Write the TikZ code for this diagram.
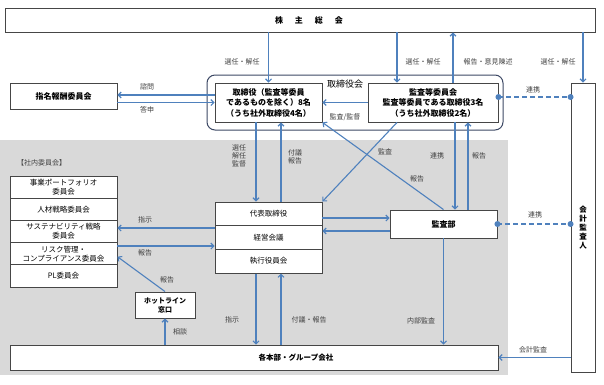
\documentclass[tikz,border=0pt]{standalone}
\usepackage{fontspec}
\setmainfont{Noto Sans CJK JP}
\usetikzlibrary{arrows.meta,calc,positioning}

\definecolor{flow}{RGB}{79,129,189}
\definecolor{frame}{RGB}{70,70,70}
\definecolor{bggray}{RGB}{217,217,217}
\definecolor{boardline}{RGB}{60,72,100}

\tikzset{
  box/.style={draw=frame,line width=0.9pt,fill=white,align=center,inner sep=1pt,
    font=\fontsize{8}{10.5}\selectfont\bfseries},
  rowbox/.style={box,minimum width=107pt,font=\fontsize{7.5}{9}\selectfont},
  lbl/.style={font=\fontsize{7}{8}\selectfont,text=black!75,inner sep=1pt,align=center},
  flowline/.style={draw=flow,line width=1.1pt,-{Straight Barb[length=3pt,width=6pt]}},
  link/.style={draw=flow,line width=2pt,dash pattern=on 5pt off 3pt},
  dot/.style={circle,fill=flow,inner sep=0pt,minimum size=6pt},
}

\begin{document}
\begin{tikzpicture}[x=1pt,y=-1pt]
  \useasboundingbox (0,0) rectangle (604,384);
  \fill[bggray] (0,140) rectangle (508,375);

  % boxes
  \node[box,minimum width=590pt,minimum height=24pt] (gm) at (300,20)
    {\hspace*{18pt}株\hspace{12pt}主\hspace{12pt}総\hspace{12pt}会};
  \node[box,minimum width=107pt,minimum height=26pt] (nom) at (63.5,96) {指名報酬委員会};
  \node[draw=boardline,line width=1pt,rounded corners=8pt,minimum width=296pt,minimum height=55pt] (bod) at (355,102.5) {};
  \node[font=\fontsize{9}{10}\selectfont,inner sep=0pt] (bodl) at (345,84) {取締役会};
  \node[box,minimum width=107pt,minimum height=39pt] (dir) at (268.5,102.5)
    {取締役（監査等委員\\であるものを除く）8名\\（うち社外取締役4名）};
  \node[box,minimum width=130pt,minimum height=39pt] (ac) at (433,102.5)
    {監査等委員会\\監査等委員である取締役3名\\（うち社外取締役2名）};
  \node[box,minimum width=24pt,minimum height=289pt,font=\fontsize{7.5}{9}\selectfont\bfseries] (aud) at (583,227.5)
    {会\\計\\監\\査\\人};
  \foreach \n/\y/\t in {rep/213.8/代表取締役, mgm/237.5/経営会議, exo/261.2/執行役員会}
    \node[rowbox,minimum height=23.7pt] (\n) at (268.5,\y) {\t};
  \node[box,minimum width=107pt,minimum height=28pt] (ia) at (443.5,224) {監査部};
  \node[lbl,anchor=west] (inl) at (16,163) {【社内委員会】};
  \foreach \n/\y/\t in {c1/187.1/{事業ポートフォリオ\\委員会}, c2/209.3/人材戦略委員会,
      c3/231.5/{サステナビリティ戦略\\委員会}, c4/253.7/{リスク管理・\\コンプライアンス委員会}, c5/275.9/PL委員会}
    \node[rowbox,minimum height=22.2pt] (\n) at (63.5,\y) {\t};
  \node[box,minimum width=60pt,minimum height=26pt,font=\fontsize{7}{9}\selectfont\bfseries] (hl) at (165,305) {ホットライン\\窓口};
  \node[box,minimum width=488pt,minimum height=25pt,font=\fontsize{7.5}{9}\selectfont\bfseries] (grp) at (254,357.5)
    {\hspace*{84pt}各本部・グループ会社};

  % helper points
  \coordinate (acA) at ([xshift=-36pt]ac.north);
  \coordinate (acB) at ([xshift=20pt]ac.north);
  \coordinate (q1) at ([yshift=7.5pt]dir.west);
  \coordinate (d1) at ([xshift=-12.5pt]dir.south);
  \coordinate (d2) at ([xshift=12.5pt]rep.north);
  \coordinate (d3) at ([xshift=-12.5pt]exo.south);
  \coordinate (d4) at ([xshift=12.5pt]exo.south);
  \coordinate (v1) at ([xshift=11.5pt]ia.north);
  \coordinate (v2) at ([xshift=24.5pt]ia.north);
  \coordinate (h1) at ([yshift=6pt]ia.west);
  \coordinate (h2) at ([yshift=-7pt]ia.west);
  \coordinate (h3) at ([yshift=9.5pt]mgm.west);
  \coordinate (h4) at ([yshift=-8.5pt]mgm.west);
  \coordinate (k1) at ([yshift=5.5pt]ac.east);

  % connectors
  \draw[flowline] (gm.south -| dir) -- (dir.north);
  \draw[flowline] (gm.south -| acA) -- (acA);
  \draw[flowline] (acB) -- (gm.south -| acB);
  \draw[flowline] (gm.south -| aud) -- (aud.north);
  \draw[flowline] (q1) -- (q1 -| nom.east);
  \draw[flowline] (nom.east |- dir.west) -- (dir.west);
  \draw[flowline] (ac.west) -- (dir.east);
  \draw[flowline] (d1) -- (d1 |- rep.north);
  \draw[flowline] (d2) -- (d2 |- dir.south);
  \draw[flowline] ([xshift=-36pt]ac.south) -- (rep.north east);
  \draw[flowline] (ia.north) -- (dir.south east);
  \draw[flowline] (v1 |- ac.south) -- (v1);
  \draw[flowline] (v2) -- (v2 |- ac.south);
  \draw[flowline] (h1 -| rep.east) -- (h1);
  \draw[flowline] (h2) -- (h2 -| mgm.east);
  \draw[flowline] (h3) -- (h3 -| c3.east);
  \draw[flowline] (h4 -| c4.east) -- (h4);
  \draw[flowline] (hl.north) -- ([yshift=-3pt]c4.east);
  \draw[flowline] (hl.south |- grp.north) -- (hl.south);
  \draw[flowline] (d3) -- (d3 |- grp.north);
  \draw[flowline] (d4 |- grp.north) -- (d4);
  \draw[flowline] (ia.south) -- (ia.south |- grp.north);
  \draw[flowline] (aud.west |- grp.east) -- (grp.east);
  \draw[link] (k1) -- (k1 -| aud.west);
  \node[dot] (k1a) at (k1) {};
  \node[dot] (k1b) at (k1 -| aud.west) {};
  \draw[link] (ia.east) -- (ia.east -| aud.west);
  \node[dot] (k2a) at (ia.east) {};
  \node[dot] (k2b) at (ia.east -| aud.west) {};

  % labels
  \foreach \n/\x/\y/\t in {l1/242/62/選任・解任, l2/423/62/選任・解任, l3/488/62/報告・意見陳述,
      l4/558/62/選任・解任, l5/147/87/諮問, l6/147/110/答申, l7/345/117/{監査/監督},
      l8/533/90/連携, l9/239/156/{選任\\解任\\監督}, l10/295/157/{付議\\報告},
      l11/385/152/監査, l12/417/179/報告, l13/437/156/連携, l14/479/156/報告,
      l15/535/215/連携, l16/145/220/指示, l17/145/253/報告, l18/167/280/報告,
      l19/180/332/相談, l20/232/320/指示, l21/309/320/付議・報告, l22/421/321/内部監査,
      l23/533/350/会計監査}
    \node[lbl] (\n) at (\x,\y) {\t};
\end{tikzpicture}
\end{document}
